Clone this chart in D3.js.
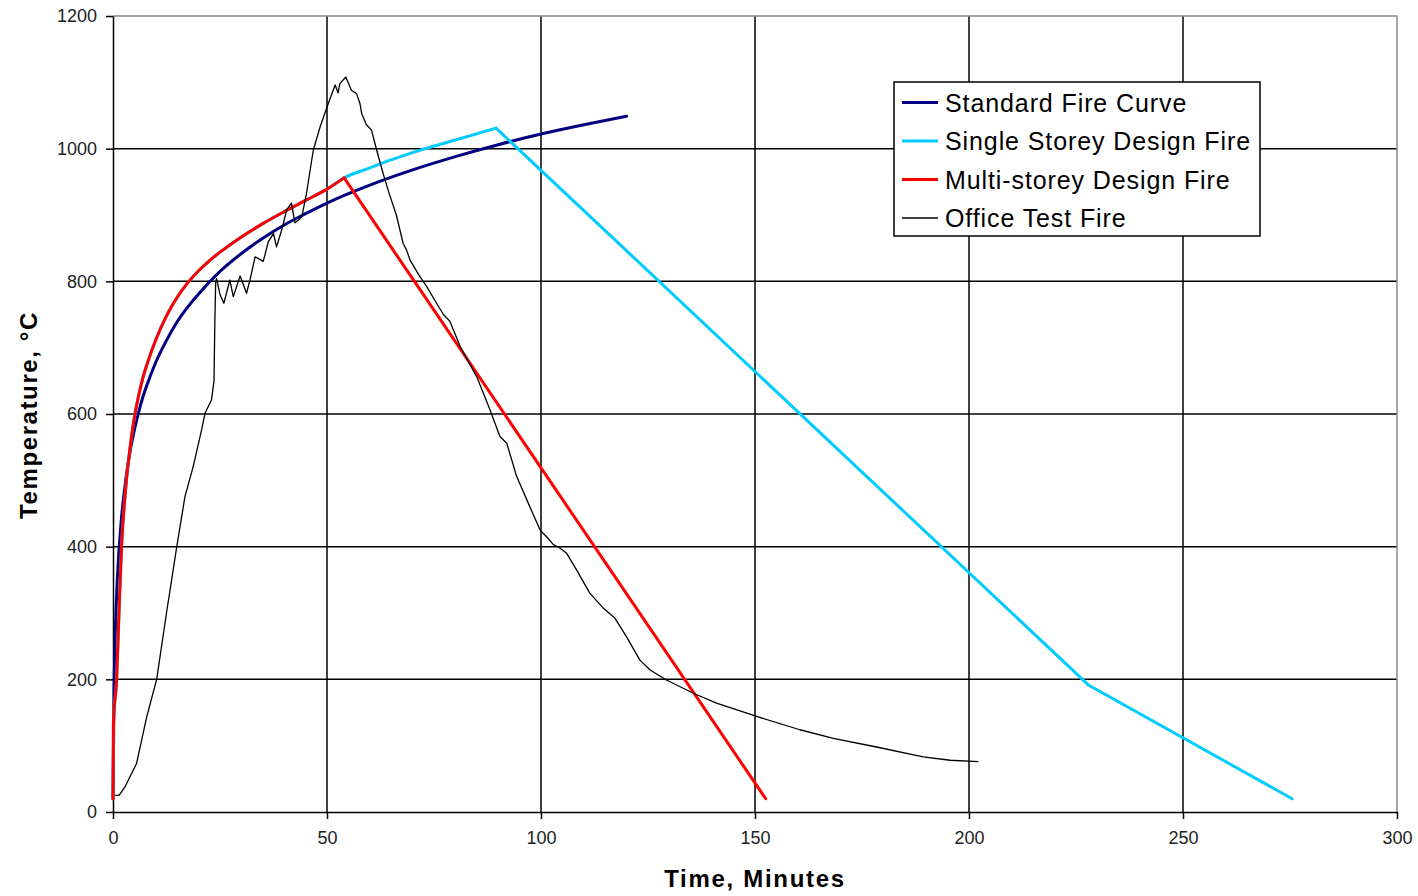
<!DOCTYPE html>
<html>
<head>
<meta charset="utf-8">
<script src="https://cdn.jsdelivr.net/npm/d3@7"></script>
<style>
	body { margin: 0; background: #fff; }
	svg text { font-family: "Liberation Sans", Arial, sans-serif; }
</style>
</head>
<body>
<svg id="chart" width="1418" height="896"></svg>
<script>
(function(){

	// values (minutes, deg C)
	var stdTime = [0, 0.25, 0.5, 1, 2, 3, 4, 5, 6, 7, 8, 10, 12.5, 15, 20, 25, 30, 35, 40, 45, 50, 60, 70, 80, 90, 100, 110, 120];
	var stdTemp = [20, 185, 261, 349, 444, 502, 544, 576, 603, 626, 645, 678, 711, 739, 781, 815, 842, 865, 885, 902, 918, 945, 968, 988, 1006, 1022, 1036, 1049];

	var singleTime = [0, 0.1, 0.85, 1.5, 2, 3, 4, 5, 6, 7, 8, 10, 12.5, 15, 17.5, 20, 22.5, 25, 30, 35, 40, 45, 50, 54, 60, 65, 70, 75, 80, 85, 89.5, 228, 275.5];
	var singleTemp = [20, 134, 200, 320, 400, 490, 550, 595, 628, 655, 676, 712, 748, 776, 798, 816, 831, 844, 867, 887, 905, 922, 939, 956, 971, 983, 994, 1004, 1013, 1022.5, 1031, 191, 20];

	var multiTime = [0, 0.1, 0.85, 1.5, 2, 3, 4, 5, 6, 7, 8, 10, 12.5, 15, 17.5, 20, 22.5, 25, 30, 35, 40, 45, 50, 54, 152.5];
	var multiTemp = [20, 134, 200, 320, 400, 490, 550, 595, 628, 655, 676, 712, 748, 776, 798, 816, 831, 844, 867, 887, 905, 922, 939, 956, 20];

	var officeTime = [0.5, 1.4, 2.8, 5.5, 7.9, 10.2, 12.5, 14.9, 16.8, 18.7, 20.7, 21.5, 23, 23.6, 23.8, 24.0, 24.2, 25.0, 25.9, 27.3, 28.1, 29.7, 31.2, 32, 33.2, 35.1, 36.3, 37.5, 38.2, 39.4, 40.6, 41.7, 42.5, 44.1, 45.2, 46.8, 48.4, 50.3, 51.9, 52.6, 53, 54.4, 55.7, 56.9, 57.7, 58.1, 59.2, 60.4, 61.6, 63.1, 64.5, 66.2, 67.8, 68.6, 69.4, 71.7, 73.3, 75.6, 77.2, 78.7, 81.1, 85, 88.1, 90.4, 92, 94.3, 97.4, 99.8, 101.3, 102.9, 104.4, 106, 108.3, 111.4, 114.6, 117.3, 120, 123.1, 125.5, 129.3, 135.6, 141, 150.4, 160.5, 168.3, 178.4, 189.3, 195.6, 202.2];
	var officeTemp = [25, 25, 38, 73, 144, 200, 300, 400, 475, 520, 576, 601, 621, 650, 740, 800, 804, 780, 767, 802, 777, 808, 782, 802, 837, 830, 860, 872, 852, 877, 908, 918, 888, 897, 932, 998, 1033, 1068, 1096, 1084, 1098, 1108, 1088, 1083, 1068, 1053, 1036, 1028, 998, 963, 933, 900, 857, 847, 832, 807, 792, 767, 750, 740, 702, 656, 606, 566, 556, 506, 460, 425, 415, 403, 398, 390, 365, 330, 307, 292, 264, 229, 214, 199, 179, 164, 144, 124, 111, 98, 83, 78, 76];

	var xTicks = [0, 50, 100, 150, 200, 250, 300];
	var yTicks = [0, 200, 400, 600, 800, 1000, 1200];

	var seriesNames = ["Standard Fire Curve", "Single Storey Design Fire", "Multi-storey Design Fire", "Office Test Fire"];
	var seriesColors = ["#000080", "#00ccff", "#ff0000", "#000000"];
	var seriesWidths = [3, 3, 3, 1.3];

	var left = 113, right = 1397, top = 16, bottom = 812;

	var x = d3.scaleLinear().domain([0, 300]).range([left, right]);
	var y = d3.scaleLinear().domain([0, 1200]).range([bottom, top]);

	var svg = d3.select("#chart");

	svg.append("rect").attr("width", 1418).attr("height", 896).attr("fill", "#fff");

	// grid
	var grid = svg.append("g");
	grid.selectAll("line.v").data(xTicks.slice(1, -1)).enter().append("line")
		.attr("x1", function(d) { return x(d); }).attr("x2", function(d) { return x(d); })
		.attr("y1", top).attr("y2", bottom)
		.attr("stroke", "#000").attr("stroke-width", 1.5);
	grid.selectAll("line.h").data(yTicks.slice(1, -1)).enter().append("line")
		.attr("x1", left).attr("x2", right)
		.attr("y1", function(d) { return y(d); }).attr("y2", function(d) { return y(d); })
		.attr("stroke", "#000").attr("stroke-width", 1.5);

	// grey frame top and right
	svg.append("path")
		.attr("d", "M" + left + "," + top + "H" + right + "V" + bottom)
		.attr("fill", "none").attr("stroke", "#888").attr("stroke-width", 1.5);

	// axes
	var xAxis = svg.append("g").attr("transform", "translate(0," + bottom + ")")
		.call(d3.axisBottom(x).tickValues(xTicks).tickFormat(d3.format("d")).tickSize(7).tickPadding(12).tickSizeOuter(0));
	var yAxis = svg.append("g").attr("transform", "translate(" + left + ",0)")
		.call(d3.axisLeft(y).tickValues(yTicks).tickFormat(d3.format("d")).tickSize(7).tickPadding(9).tickSizeOuter(0));

	[xAxis, yAxis].forEach(function(ax){
		ax.select(".domain").attr("stroke", "#000").attr("stroke-width", 1.5);
		ax.selectAll(".tick line").attr("stroke", "#000").attr("stroke-width", 1.5);
		ax.selectAll(".tick text").attr("font-size", 18).attr("fill", "#222")
			.attr("font-family", "'Liberation Sans', Arial, sans-serif");
	});

	// series: rising part drawn smooth, straight decay drawn linear
	var series = [
		{ t : stdTime, v : stdTemp },
		{ t : singleTime, v : singleTemp },
		{ t : multiTime, v : multiTemp }
	];

	var smooth = d3.line()
		.curve(d3.curveMonotoneX)
		.x(function(d) { return x(d[0]); })
		.y(function(d) { return y(d[1]); });

	var straight = d3.line()
		.x(function(d) { return x(d[0]); })
		.y(function(d) { return y(d[1]); });

	series.forEach(function(s, i){
		var pts = d3.zip(s.t, s.v);
		var peak = d3.maxIndex(s.v);
		[[smooth, pts.slice(0, peak + 1)], [straight, pts.slice(peak)]].forEach(function(part){
			if (part[1].length < 2) return;
			svg.append("path")
				.datum(part[1])
				.attr("d", part[0])
				.attr("fill", "none")
				.attr("stroke", seriesColors[i])
				.attr("stroke-width", seriesWidths[i])
				.attr("stroke-linejoin", "round")
				.attr("stroke-linecap", "round");
		});
	});

	svg.append("path")
		.datum(d3.zip(officeTime, officeTemp))
		.attr("d", straight)
		.attr("fill", "none")
		.attr("stroke", seriesColors[3])
		.attr("stroke-width", seriesWidths[3])
		.attr("stroke-linejoin", "round");

	// legend
	var legend = svg.append("g");
	legend.append("rect")
		.attr("x", 894).attr("y", 82).attr("width", 366).attr("height", 154)
		.attr("fill", "#fff").attr("stroke", "#000").attr("stroke-width", 1.5);

	var rows = legend.selectAll("g.row").data(seriesNames).enter().append("g")
		.attr("transform", function(d, i) { return "translate(0," + (102.5 + i * 38.5) + ")"; });
	rows.append("line")
		.attr("x1", 902).attr("x2", 938).attr("y1", 0).attr("y2", 0)
		.attr("stroke", function(d, i) { return seriesColors[i]; })
		.attr("stroke-width", function(d, i) { return i == 3 ? 1.3 : 3; });
	rows.append("text")
		.attr("x", 945).attr("y", 0).attr("dy", "0.36em")
		.attr("font-size", 25).attr("letter-spacing", 0.9).attr("fill", "#000")
		.text(function(d) { return d; });

	// axis titles
	svg.append("text")
		.attr("x", 755).attr("y", 887)
		.attr("text-anchor", "middle")
		.attr("font-size", 24).attr("font-weight", "bold").attr("letter-spacing", 1.7)
		.text("Time, Minutes");

	svg.append("text")
		.attr("transform", "translate(37,415) rotate(-90)")
		.attr("text-anchor", "middle")
		.attr("font-size", 24).attr("font-weight", "bold").attr("letter-spacing", 1.6)
		.text("Temperature, °C");

})();
</script>
</body>
</html>
